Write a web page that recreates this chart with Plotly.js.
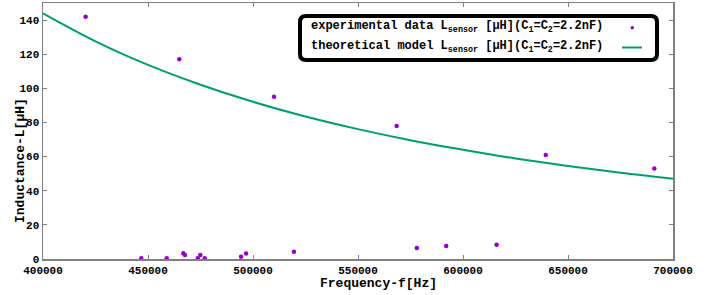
<!DOCTYPE html>
<html>
<head>
<meta charset="utf-8">
<script src="https://cdn.plot.ly/plotly-3.0.1.min.js"></script>
<style>html,body{margin:0;padding:0;background:#fff;}</style>
</head>
<body>
<div id="chart" style="width:708px;height:295px;"></div>
<script>
const expFreq = [420300, 446800, 458900, 464900, 466800, 467600, 473700, 474900, 477000,
                 494300, 496700, 510000, 519500, 568400, 578000, 592000, 616000, 639400, 691100];
const expL    = [142, 0.4, 0.4, 117, 3.4, 2.4, 0.4, 2.4, 0.4,
                 1.3, 3.2, 95, 4.3, 78, 6.4, 7.6, 8.3, 61, 53];

// Theoretical model curve
const modelFreq = [400000, 425000, 450000, 475000, 500000, 525000, 550000, 575000, 600000, 625000, 650000, 675000, 700000];
const modelL    = [143.9, 127.5, 113.7, 102.1, 92.1, 83.5, 76.1, 69.6, 64.0, 58.9, 54.5, 50.5, 47.0];

const xTicks = [400000, 450000, 500000, 550000, 600000, 650000, 700000];
const yTicks = [0, 20, 40, 60, 80, 100, 120, 140];

const xTitle = 'Frequency-f[Hz]';
const yTitle = 'Inductance-L[μH]';
const legendExp = 'experimental data L<sub>sensor</sub> [μH](C<sub>1</sub>=C<sub>2</sub>=2.2nF)';
const legendModel = 'theoretical model L<sub>sensor</sub> [μH](C<sub>1</sub>=C<sub>2</sub>=2.2nF)';

const purple = '#9400D3';
const green = '#009E73';
const FONT = '"Liberation Mono", "DejaVu Sans Mono", monospace';

const traces = [
  {x: modelFreq, y: modelL, type: 'scatter', mode: 'lines', line: {color: green, width: 2, shape: 'spline'}, hoverinfo: 'skip'},
  {x: expFreq, y: expL, type: 'scatter', mode: 'markers', marker: {color: purple, size: 4.5}, hoverinfo: 'skip'}
];

const L = 43, R = 673, T = 3, B = 259, W = 708, H = 295;
const px = v => (v - L) / (R - L);
const py = v => (B - v) / (B - T);

// rounded legend box
const bx0 = px(300), bx1 = px(657), by0 = py(60), by1 = py(16);
const rx = 6 / (R - L), ry = 6 / (B - T);
const boxPath = `M ${bx0+rx} ${by1} L ${bx1-rx} ${by1} Q ${bx1} ${by1} ${bx1} ${by1-ry} L ${bx1} ${by0+ry} Q ${bx1} ${by0} ${bx1-rx} ${by0} L ${bx0+rx} ${by0} Q ${bx0} ${by0} ${bx0} ${by0+ry} L ${bx0} ${by1-ry} Q ${bx0} ${by1} ${bx0+rx} ${by1} Z`;

const axisCommon = {
  showline: true, linecolor: '#808080', linewidth: 1.5, mirror: 'ticks',
  ticks: 'inside', ticklen: 4, tickcolor: '#808080', tickwidth: 1,
  showgrid: false, zeroline: false,
  tickfont: {family: FONT, size: 11, color: '#000', weight: 'bold'}
};

const titleFont = {family: FONT, size: 13, color: '#000', weight: 'bold'};
const legFont = {family: FONT, size: 12, color: '#000', weight: 'bold'};

const layout = {
  width: W, height: H,
  margin: {l: L, r: W - R, t: T, b: H - B},
  paper_bgcolor: '#fff', plot_bgcolor: '#fff',
  showlegend: false,
  xaxis: Object.assign({}, axisCommon, {
    range: [400000, 700000], tickvals: xTicks, ticktext: xTicks.map(String)
  }),
  yaxis: Object.assign({}, axisCommon, {
    range: [0, 150], tickvals: yTicks, ticktext: yTicks.map(String)
  }),
  shapes: [
    {type: 'path', xref: 'paper', yref: 'paper', path: boxPath, line: {color: '#000', width: 4}, fillcolor: '#fff', layer: 'above'},
    {type: 'circle', xref: 'paper', yref: 'paper', x0: px(630.5), x1: px(634), y0: py(29.5), y1: py(26), fillcolor: purple, line: {width: 0}, layer: 'above'},
    {type: 'line', xref: 'paper', yref: 'paper', x0: px(622), x1: px(642), y0: py(47.5), y1: py(47.5), line: {color: green, width: 2}, layer: 'above'}
  ],
  annotations: [
    {xref: 'paper', yref: 'paper', x: px(309), y: py(27), xanchor: 'left', yanchor: 'middle', showarrow: false, text: legendExp, font: legFont},
    {xref: 'paper', yref: 'paper', x: px(309), y: py(47), xanchor: 'left', yanchor: 'middle', showarrow: false, text: legendModel, font: legFont},
    {xref: 'paper', yref: 'paper', x: px(378), y: py(283), xanchor: 'center', yanchor: 'middle', showarrow: false, text: xTitle, font: titleFont},
    {xref: 'paper', yref: 'paper', x: px(20), y: py(161), xanchor: 'center', yanchor: 'middle', showarrow: false, textangle: -90, text: yTitle, font: titleFont}
  ]
};

Plotly.newPlot('chart', traces, layout, {staticPlot: true, displayModeBar: false});
</script>
</body>
</html>
